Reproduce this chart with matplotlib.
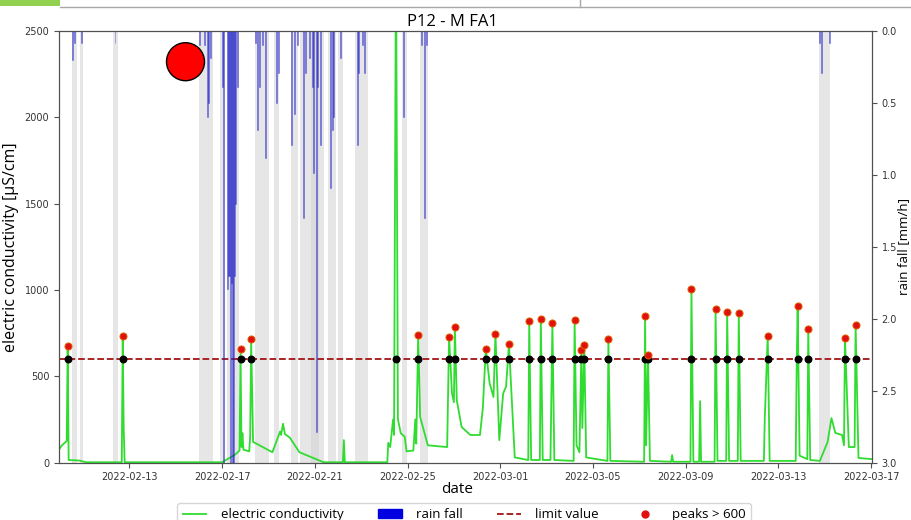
import pandas as pd
import matplotlib
matplotlib.use("Agg")
import matplotlib.pyplot as plt
import matplotlib.dates as mdates
from matplotlib.lines import Line2D
from matplotlib.patches import Patch, Ellipse, Rectangle

# Leitfähigkeit P12 (µS/cm), Stützstellen der Messreihe
ec_time = [
    "2022-02-09 23:00", "2022-02-10 02:00", "2022-02-10 05:00", "2022-02-10 07:00",
    "2022-02-10 08:00", "2022-02-10 09:00", "2022-02-10 20:00", "2022-02-11 03:00",
    "2022-02-12 16:00", "2022-02-12 17:00", "2022-02-12 18:00", "2022-02-12 19:00",
    "2022-02-17 00:00", "2022-02-17 13:00", "2022-02-17 18:00", "2022-02-17 19:00",
    "2022-02-17 20:00", "2022-02-17 21:00", "2022-02-17 22:00", "2022-02-18 04:00",
    "2022-02-18 05:00", "2022-02-18 06:00", "2022-02-18 08:00", "2022-02-19 04:00",
    "2022-02-19 12:00", "2022-02-19 13:00", "2022-02-19 15:00", "2022-02-19 17:00",
    "2022-02-19 22:00", "2022-02-20 08:00", "2022-02-21 09:00", "2022-02-22 05:00",
    "2022-02-22 06:00", "2022-02-22 07:00", "2022-02-24 03:00", "2022-02-24 04:00",
    "2022-02-24 06:00", "2022-02-24 09:00", "2022-02-24 10:00", "2022-02-24 12:00",
    "2022-02-24 14:00", "2022-02-24 17:00", "2022-02-24 21:00", "2022-02-24 23:00",
    "2022-02-25 06:00", "2022-02-25 08:00", "2022-02-25 09:00", "2022-02-25 11:00",
    "2022-02-25 13:00", "2022-02-25 21:00", "2022-02-26 17:00", "2022-02-26 19:00",
    "2022-02-26 22:00", "2022-02-27 00:00", "2022-02-27 01:00", "2022-02-27 03:00",
    "2022-02-27 08:00", "2022-02-27 17:00", "2022-02-28 03:00", "2022-02-28 06:00",
    "2022-02-28 09:00", "2022-02-28 13:00", "2022-02-28 17:00", "2022-02-28 19:00",
    "2022-02-28 23:00", "2022-03-01 03:00", "2022-03-01 06:00", "2022-03-01 09:00",
    "2022-03-01 15:00", "2022-03-02 05:00", "2022-03-02 06:00", "2022-03-02 08:00",
    "2022-03-02 17:00", "2022-03-02 18:00", "2022-03-02 20:00", "2022-03-03 04:00",
    "2022-03-03 06:00", "2022-03-03 08:00", "2022-03-04 04:00", "2022-03-04 05:00",
    "2022-03-04 07:00", "2022-03-04 10:00", "2022-03-04 12:00", "2022-03-04 13:00",
    "2022-03-04 15:00", "2022-03-04 17:00", "2022-03-05 15:00", "2022-03-05 16:00",
    "2022-03-05 18:00", "2022-03-07 05:00", "2022-03-07 06:00", "2022-03-07 07:00",
    "2022-03-07 09:00", "2022-03-07 11:00", "2022-03-08 09:00", "2022-03-08 10:00",
    "2022-03-08 11:00", "2022-03-09 05:00", "2022-03-09 06:00", "2022-03-09 08:00",
    "2022-03-09 14:00", "2022-03-09 15:00", "2022-03-09 16:00", "2022-03-10 06:00",
    "2022-03-10 07:00", "2022-03-10 09:00", "2022-03-10 18:00", "2022-03-10 19:00",
    "2022-03-10 21:00", "2022-03-11 06:00", "2022-03-11 07:00", "2022-03-11 09:00",
    "2022-03-12 09:00", "2022-03-12 10:00", "2022-03-12 13:00", "2022-03-12 15:00",
    "2022-03-13 18:00", "2022-03-13 19:00", "2022-03-13 20:00", "2022-03-13 22:00",
    "2022-03-14 06:00", "2022-03-14 07:00", "2022-03-14 09:00", "2022-03-14 19:00",
    "2022-03-15 03:00", "2022-03-15 07:00", "2022-03-15 11:00", "2022-03-15 18:00",
    "2022-03-15 20:00", "2022-03-15 21:00", "2022-03-16 01:00", "2022-03-16 07:00",
    "2022-03-16 08:00", "2022-03-16 11:00", "2022-03-17 01:00",
]
ec_value = [
    75, 100, 115, 125,
    676, 15, 12, 2,
    2, 734, 200, 2,
    2, 45, 70, 658,
    90, 170, 75, 65,
    150, 716, 120, 60,
    180, 160, 225, 165,
    145, 60, 2, 2,
    130, 2, 2, 115,
    90, 250, 160, 3000,
    250, 170, 150, 65,
    70, 250, 110, 740,
    265, 100, 90, 728,
    400, 350, 786, 360,
    206, 160, 160, 320,
    658, 460, 380, 745,
    130, 400, 440, 687,
    30, 15, 821, 15,
    15, 833, 15, 15,
    810, 15, 10, 827,
    100, 60, 652, 200,
    681, 30, 10, 716,
    10, 5, 850, 100,
    624, 10, 5, 44,
    5, 5, 1006, 5,
    5, 356, 5, 5,
    890, 10, 10, 872,
    10, 10, 867, 10,
    10, 264, 734, 10,
    10, 560, 907, 40,
    20, 774, 15, 10,
    119, 258, 172, 160,
    100, 722, 90, 90,
    797, 27, 20,
]

# Niederschlag (mm/h)
rain_time = [
    "2022-02-10 13:00", "2022-02-10 15:00", "2022-02-10 22:00", "2022-02-12 09:00",
    "2022-02-16 01:00", "2022-02-16 06:00", "2022-02-16 09:00", "2022-02-16 10:00",
    "2022-02-16 12:00", "2022-02-17 00:00", "2022-02-17 01:00", "2022-02-17 06:00",
    "2022-02-17 07:00", "2022-02-17 08:00", "2022-02-17 09:00", "2022-02-17 10:00",
    "2022-02-17 11:00", "2022-02-17 12:00", "2022-02-17 13:00", "2022-02-17 14:00",
    "2022-02-17 16:00", "2022-02-18 11:00", "2022-02-18 13:00", "2022-02-18 15:00",
    "2022-02-18 18:00", "2022-02-18 21:00", "2022-02-19 08:00", "2022-02-19 10:00",
    "2022-02-20 00:00", "2022-02-20 03:00", "2022-02-20 06:00", "2022-02-20 12:00",
    "2022-02-20 14:00", "2022-02-20 18:00", "2022-02-20 22:00", "2022-02-20 23:00",
    "2022-02-21 02:00", "2022-02-21 03:00", "2022-02-21 06:00", "2022-02-21 16:00",
    "2022-02-21 18:00", "2022-02-21 19:00", "2022-02-22 03:00", "2022-02-22 20:00",
    "2022-02-22 21:00", "2022-02-23 01:00", "2022-02-23 03:00", "2022-02-24 20:00",
    "2022-02-25 14:00", "2022-02-25 18:00", "2022-02-25 20:00", "2022-03-14 19:00",
    "2022-03-14 21:00", "2022-03-15 05:00",
]
rain_mm = [
    0.20, 0.08, 0.08, 0.08,
    0.10, 0.10, 0.60, 0.50,
    0.19, 0.39, 3.00, 1.79,
    1.70, 1.70, 3.00, 1.75,
    3.00, 3.00, 1.70, 1.20,
    0.39, 0.08, 0.69, 0.39,
    0.10, 0.88, 0.50, 0.29,
    0.79, 0.58, 0.10, 1.30,
    0.29, 0.19, 0.39, 0.99,
    2.79, 0.39, 0.79, 1.09,
    0.69, 0.60, 0.19, 0.79,
    0.29, 0.10, 0.29, 0.60,
    0.10, 1.30, 0.10, 0.08,
    0.29, 0.08,
]

# Regenperioden (grau hinterlegt)
wet_start = [
    "2022-02-10 12:00", "2022-02-10 21:00", "2022-02-12 07:00", "2022-02-16 00:00",
    "2022-02-16 22:00", "2022-02-17 05:00", "2022-02-18 10:00", "2022-02-19 06:00",
    "2022-02-19 23:00", "2022-02-20 09:00", "2022-02-20 20:00", "2022-02-21 14:00",
    "2022-02-22 00:00", "2022-02-22 18:00", "2022-02-24 18:00", "2022-02-25 13:00",
    "2022-03-14 18:00",
]
wet_end = [
    "2022-02-10 18:00", "2022-02-11 00:00", "2022-02-12 12:00", "2022-02-16 15:00",
    "2022-02-17 03:00", "2022-02-17 17:00", "2022-02-19 00:00", "2022-02-19 11:00",
    "2022-02-20 07:00", "2022-02-21 09:00", "2022-02-21 04:00", "2022-02-21 22:00",
    "2022-02-22 05:00", "2022-02-23 07:00", "2022-02-24 23:00", "2022-02-25 21:00",
    "2022-03-15 06:00",
]

limit = 600
x_ticks = ["2022-02-13", "2022-02-17", "2022-02-21", "2022-02-25", "2022-03-01",
           "2022-03-05", "2022-03-09", "2022-03-13", "2022-03-17"]

ec = pd.Series(ec_value, index=pd.to_datetime(ec_time))
rain = pd.Series(rain_mm, index=pd.to_datetime(rain_time))
peaks = ec[ec > limit]

green = "#2fdc2f"
rain_col = "#1c1cc8"
limit_col = "#a31515"
label_font = "Open Sans"
spine_col = "#505050"

fig = plt.figure(figsize=(9.11, 5.2), dpi=100)
ax = fig.add_axes([59 / 911, 1 - 462.6 / 520, 813 / 911, 431.6 / 520])
ax2 = ax.twinx()

for s, e in zip(pd.to_datetime(wet_start), pd.to_datetime(wet_end)):
    ax.axvspan(s, e, color="lightgray", alpha=0.55, lw=0, zorder=0)

ax.plot(ec.index, ec.values, color=green, lw=1.3, zorder=2)
ax.axhline(limit, color=limit_col, ls="--", lw=1.3, zorder=3)
ax.scatter(peaks.index, [limit] * len(peaks), s=22, color="black", zorder=4)
ax.scatter(peaks.index, peaks.values, s=26, color="#e01010",
           edgecolors="#e06000", linewidths=0.7, zorder=5)

ax2.bar(rain.index, rain.values, width=1 / 24, color=rain_col, alpha=0.5,
        edgecolor=rain_col, linewidth=0.5, zorder=2)

ax.set_xlim(pd.Timestamp("2022-02-09 23:00"), pd.Timestamp("2022-03-17 01:00"))
ax.set_ylim(0, 2500)
ax2.set_ylim(3.0, 0.0)

ax.set_xticks(pd.to_datetime(x_ticks))
ax.xaxis.set_major_formatter(mdates.DateFormatter("%Y-%m-%d"))
ax.set_yticks([0, 500, 1000, 1500, 2000, 2500])
ax2.set_yticks([0.0, 0.5, 1.0, 1.5, 2.0, 2.5, 3.0])

for a in (ax, ax2):
    a.tick_params(labelsize=7, colors=spine_col, labelcolor="#333333", length=3.5)
    for sp in a.spines.values():
        sp.set_color(spine_col)

ax.set_xlabel("date", family=label_font, fontsize=11)
ax.xaxis.set_label_coords(0.49, -0.045)
ax.set_ylabel("electric conductivity [µS/cm]", family=label_font, fontsize=11.5)
ax2.set_ylabel("rain fall [mm/h]", family=label_font, fontsize=9.5, labelpad=0)

fig.text(452 / 911, 1 - 25.5 / 520, "P12 - M FA1", family=label_font,
         fontsize=12, ha="center", va="baseline")

handles = [
    Line2D([], [], color=green, lw=1.3, label="electric conductivity"),
    Patch(color="#0000e0", label="rain fall"),
    Line2D([], [], color=limit_col, ls="--", lw=1.3, label="limit value"),
    Line2D([], [], color="#e01010", marker="o", ls="none", markersize=5,
           label="peaks > 600"),
]
fig.legend(handles=handles, loc="upper center", bbox_to_anchor=(464 / 911, 1 - 503 / 520),
           borderaxespad=0, ncol=4, prop={"family": label_font, "size": 9.5},
           columnspacing=2.6, handlelength=1.8, handletextpad=1.1, edgecolor="#cccccc")

# Fensterreste oben und Markierung
fig.add_artist(Rectangle((0, 1 - 6 / 520), 60 / 911, 6 / 520, transform=fig.transFigure,
                         color="#92d050", lw=0))
fig.add_artist(Line2D([60 / 911, 1], [1 - 6.5 / 520] * 2, transform=fig.transFigure,
                      color="#a8a8a8", lw=1))
fig.add_artist(Line2D([580 / 911] * 2, [1 - 6.5 / 520, 1], transform=fig.transFigure,
                      color="#a8a8a8", lw=1))
fig.add_artist(Ellipse((185.5 / 911, 1 - 61.7 / 520), 38 / 911, 38 / 520,
                       transform=fig.transFigure, facecolor="red", edgecolor="black",
                       lw=1, zorder=10))

fig.savefig("out.png", dpi=100)
